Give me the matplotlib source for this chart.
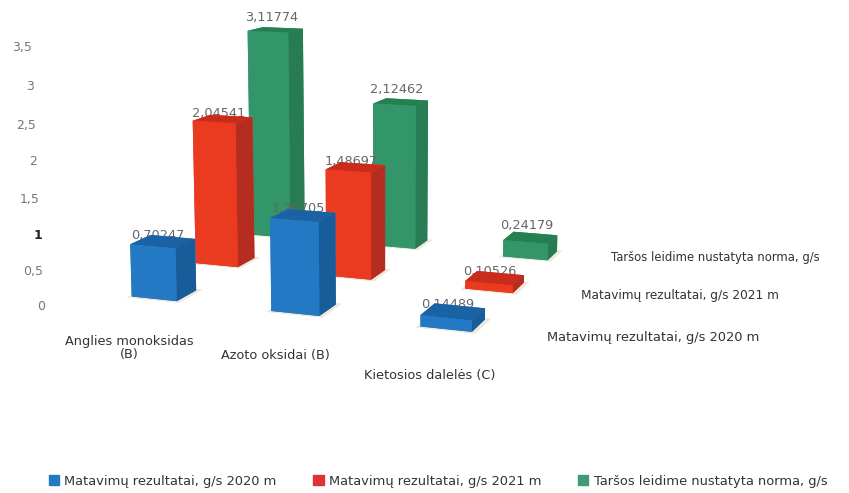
import matplotlib
matplotlib.use('Agg')
import matplotlib.pyplot as plt
from matplotlib.patches import Patch
from mpl_toolkits.mplot3d import proj3d

W, H = 849, 493

categories = ['Anglies monoksidas\n(B)', 'Azoto oksidai (B)', 'Kietosios dalelės (C)']
series_names = ['Matavimų rezultatai, g/s 2020 m', 'Matavimų rezultatai, g/s 2021 m',
                'Taršos leidime nustatyta norma, g/s']
v2020 = [0.70247, 1.20705, 0.14489]
v2021 = [2.04541, 1.48697, 0.10526]
norma = [3.11774, 2.12462, 0.24179]
label2020 = ['0,70247', '1,20705', '0,14489']
label2021 = ['2,04541', '1,48697', '0,10526']
labelnorma = ['3,11774', '2,12462', '0,24179']
yticks = ['0', '0,5', '1', '1,5', '2', '2,5', '3', '3,5']

# face colours: bottom, top, front, back, left, right
blue = ['#1c6fb5', '#1a62a3', '#2379c4', '#2379c4', '#2379c4', '#185c9a']
red = ['#e0351e', '#c92c1c', '#ea3a1f', '#ea3a1f', '#ea3a1f', '#b52c20']
green = ['#2f9463', '#25804f', '#32966a', '#32966a', '#32966a', '#287c54']
legend_colors = ['#2379c4', '#e0303a', '#3f9a78']

fig = plt.figure(figsize=(W / 100, H / 100), dpi=100)
ax = fig.add_axes([-0.059, 0.19, 1, 1], projection='3d')
ax.computed_zorder = False
ax.set_proj_type('persp', focal_length=0.6)
ax.view_init(elev=10.2, azim=-70)
ax.set_axis_off()

bw, bd = 0.33, 0.30
ax.set_xlim(-0.4, 3.0)
ax.set_ylim(-0.4, 3.0)
ax.set_zlim(0, 3.5)
ax.set_box_aspect((2.48, 2.32, 1.28), zoom=1.42)

z = 10
rows = [(2, norma, green, labelnorma, 0.18), (1, v2021, red, label2021, 0.08),
        (0, v2020, blue, label2020, 0.08)]
M = ax.get_proj()
for row, vals, cols, labs, lift in rows:
    for i in range(3):
        # pale shadow under each bar
        ax.bar3d(i - 0.02, row - 0.03, 0, bw + 0.05, bd + 0.06, 0.001, color='#efe9da', shade=False,
                 linewidth=0, zorder=z - 1, clip_on=False)
        ax.bar3d(i * 1.0, row * 1.0, 0, bw, bd, vals[i], color=cols, shade=False,
                 linewidth=0, zorder=z + 1, clip_on=False)
        tx, ty, _ = proj3d.proj_transform(i + bw * 0.4, row + bd / 2, vals[i] + lift, M)
        ax.text2D(tx, ty, labs[i], ha='center', va='center', fontsize=9.3, color='#666666',
                  zorder=z, transform=ax.transData, clip_on=False)
        z += 3


def px(x, y):
    return x / W, 1 - y / H


tick_y = [307, 272, 236, 199, 161, 125, 86, 47]
tick_x = [41, 33, 38, 30, 33, 26, 30, 22]
for t, tx, ty in zip(yticks, tick_x, tick_y):
    fx, fy = px(tx, ty)
    fig.text(fx, fy, t, ha='center', va='center', fontsize=9,
             color='#222222' if t == '1' else '#777777',
             fontweight='bold' if t == '1' else 'normal')

cat_pos = [(129, 348), (275, 356), (430, 375)]
for c, (cx, cy) in zip(categories, cat_pos):
    fx, fy = px(cx, cy)
    fig.text(fx, fy, c, ha='center', va='center', fontsize=9.3, color='#333333', linespacing=1.05)

ser_pos = [(653, 338), (680, 295), (715, 257)]
ser_size = [9.4, 8.7, 8.4]
for s, (sx, sy), fs in zip(series_names, ser_pos, ser_size):
    fx, fy = px(sx, sy)
    fig.text(fx, fy, s, ha='center', va='center', fontsize=fs, color='#333333')

handles = [Patch(color=c, label=s) for c, s in zip(legend_colors, series_names)]
fig.legend(handles=handles, ncol=3, loc='center', bbox_to_anchor=px(438, 481), frameon=False,
           fontsize=9.4, labelcolor='#333333', handlelength=0.8, handleheight=0.8,
           handletextpad=0.4, columnspacing=2.8)

fig.savefig('out.png', dpi=100)
